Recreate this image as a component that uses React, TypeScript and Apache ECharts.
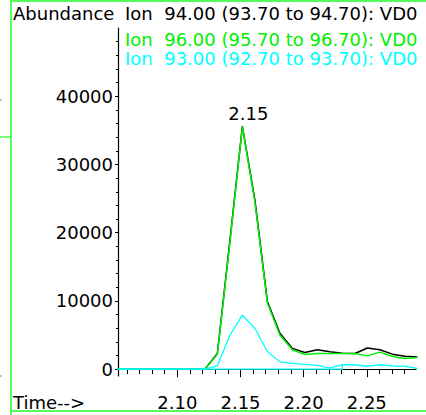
import React, { useEffect, useRef } from "react";
import * as echarts from "echarts";

// Retention times (min) of the scans
const times = [
  2.0525, 2.0624, 2.0723, 2.0822, 2.0921, 2.102, 2.1119, 2.1218, 2.1317, 2.1416,
  2.1515, 2.1614, 2.1713, 2.1812, 2.1911, 2.201, 2.2109, 2.2208, 2.2307, 2.2406,
  2.2505, 2.2604, 2.2703, 2.2802, 2.2901,
];
// Abundances
const ion94 = [
  0, 0, 0, 0, 0, 0, 0, 0, 2300, 18800, 35600, 24800, 9900, 5250, 3050, 2450, 2850,
  2550, 2350, 2300, 3100, 2850, 2200, 1900, 1800,
];
const ion96 = [
  0, 0, 0, 0, 0, 0, 0, 0, 2200, 18500, 35500, 24500, 9700, 5000, 2850, 2150, 2300,
  2300, 2300, 2300, 1950, 2500, 1850, 1570, 1710,
];
const ion93 = [
  0, 0, 0, 0, 0, 0, 0, 0, 500, 4980, 7910, 6000, 2600, 1070, 850, 700, 550, 150,
  650, 650, 450, 650, 450, 450, 100,
];
// integration baseline of ion 93
const baseTimes = [2.0525, 2.2307, 2.2307];
const baseValues = [0, 0, 650];

const peakIndex = 10;

const xMajor = [2.1, 2.15, 2.2, 2.25];
const xMinor = [
  2.06, 2.07, 2.08, 2.09, 2.11, 2.12, 2.13, 2.14, 2.16, 2.17, 2.18, 2.19, 2.21,
  2.22, 2.23, 2.24, 2.26, 2.27, 2.28,
];
const yMajor = [0, 10000, 20000, 30000, 40000];
const yMinor = [
  2000, 4000, 6000, 8000, 12000, 14000, 16000, 18000, 22000, 24000, 26000, 28000,
  32000, 34000, 36000, 38000, 42000, 44000, 46000, 48000,
];

const headers = [
  { text: "Ion  94.00 (93.70 to 94.70): VD0", color: "#000000", y: 13.8 },
  { text: "Ion  96.00 (95.70 to 96.70): VD0", color: "#00ee00", y: 39.3 },
  { text: "Ion  93.00 (92.70 to 93.70): VD0", color: "#00ffff", y: 58.3 },
];

const FONT = "DejaVu Sans";
const FS = 18;
const FRAME = "#22ff22";

export default function App() {
  const ref = useRef<HTMLDivElement>(null);
  useEffect(() => {
    if (!ref.current) return;
    const chart = echarts.init(ref.current, null, { renderer: "svg" });
    const pair = (vals: number[]) => times.map((t, i) => [t, vals[i]]);
    const xMin = 2.053;
    const xMax = 2.289;
    const yMin = -1000;
    const yMax = 50000;
    chart.setOption({
      animation: false,
      grid: { left: 118, right: 10, top: 28, bottom: 39 },
      xAxis: [
        {
          type: "value",
          min: xMin,
          max: xMax,
          axisLine: { show: true, lineStyle: { color: "#000", width: 1.2 } },
          axisTick: { show: true, customValues: xMajor, length: 8, lineStyle: { color: "#000" } },
          axisLabel: {
            customValues: xMajor,
            formatter: (v: number) => v.toFixed(2),
            fontSize: FS,
            fontFamily: FONT,
            color: "#000",
            margin: 17,
          },
          splitLine: { show: false },
        },
        {
          type: "value",
          min: xMin,
          max: xMax,
          position: "bottom",
          axisLine: { show: false },
          axisTick: { show: true, customValues: xMinor, length: 5, lineStyle: { color: "#000" } },
          axisLabel: { show: false },
          splitLine: { show: false },
        },
      ],
      yAxis: [
        {
          type: "value",
          min: yMin,
          max: yMax,
          axisLine: { show: true, lineStyle: { color: "#000", width: 1.2 } },
          axisTick: { show: true, customValues: yMajor, length: 3, lineStyle: { color: "#000" } },
          axisLabel: {
            customValues: yMajor,
            formatter: (v: number) => String(v),
            fontSize: FS,
            fontFamily: FONT,
            color: "#000",
            margin: 5,
          },
          splitLine: { show: false },
        },
        {
          type: "value",
          min: yMin,
          max: yMax,
          position: "left",
          axisLine: { show: false },
          axisTick: { show: true, customValues: yMinor, length: 2, lineStyle: { color: "#000" } },
          axisLabel: { show: false },
          splitLine: { show: false },
        },
      ],
      series: [
        {
          name: "Ion 94.00",
          type: "line",
          data: pair(ion94),
          symbol: "none",
          lineStyle: { color: "#000000", width: 1.5 },
          z: 2,
          markPoint: {
            symbol: "circle",
            symbolSize: 1,
            itemStyle: { color: "rgba(0,0,0,0)" },
            data: [
              {
                coord: [times[peakIndex], ion94[peakIndex]],
                value: times[peakIndex],
              },
            ],
            label: {
              show: true,
              position: "top",
              distance: 3,
              offset: [6, 0],
              formatter: (p: any) => Number(p.value).toFixed(2),
              color: "#000",
              fontSize: FS,
              fontFamily: FONT,
            },
          },
        },
        {
          name: "Ion 96.00",
          type: "line",
          data: pair(ion96),
          symbol: "none",
          lineStyle: { color: "#00ee00", width: 1.5 },
          z: 3,
        },
        {
          name: "Ion 93.00",
          type: "line",
          data: pair(ion93),
          symbol: "none",
          lineStyle: { color: "#00ffff", width: 1.3 },
          z: 4,
        },
        {
          name: "Ion 93.00 baseline",
          type: "line",
          data: baseTimes.map((t, i) => [t, baseValues[i]]),
          symbol: "none",
          lineStyle: { color: "#00ffff", width: 1.3 },
          z: 4,
        },
      ],
      graphic: [
        { type: "line", shape: { x1: 11, y1: 0, x2: 11, y2: 415 }, style: { stroke: FRAME, lineWidth: 1.5 } },
        { type: "line", shape: { x1: 11, y1: 1, x2: 426, y2: 1 }, style: { stroke: FRAME, lineWidth: 1.5 } },
        { type: "line", shape: { x1: 11, y1: 411, x2: 426, y2: 411 }, style: { stroke: FRAME, lineWidth: 1.5 } },
        { type: "line", shape: { x1: 0, y1: 137, x2: 11, y2: 137 }, style: { stroke: FRAME, lineWidth: 1.2 } },
        { type: "line", shape: { x1: 0, y1: 100, x2: 1.5, y2: 100 }, style: { stroke: "#666", lineWidth: 1 } },
        { type: "line", shape: { x1: 0, y1: 376, x2: 1.5, y2: 376 }, style: { stroke: "#666", lineWidth: 1 } },
        {
          type: "text",
          x: 13,
          y: 13.8,
          style: { text: "Abundance", fill: "#000", fontSize: FS, fontFamily: FONT, textVerticalAlign: "middle", lineHeight: 16 },
        },
        ...headers.map((h) => ({
          type: "text",
          x: 125,
          y: h.y,
          style: { text: h.text, fill: h.color, fontSize: FS, fontFamily: FONT, textVerticalAlign: "middle", lineHeight: 16 },
        })),
        {
          type: "text",
          x: 13,
          y: 402,
          style: { text: "Time-->", fill: "#000", fontSize: FS, fontFamily: FONT, textVerticalAlign: "middle" },
        },
      ],
    });
    return () => chart.dispose();
  }, []);
  return (
    <div
      ref={ref}
      style={{ position: "fixed", left: 0, top: 0, width: 426, height: 415, background: "#fff" }}
    />
  );
}
